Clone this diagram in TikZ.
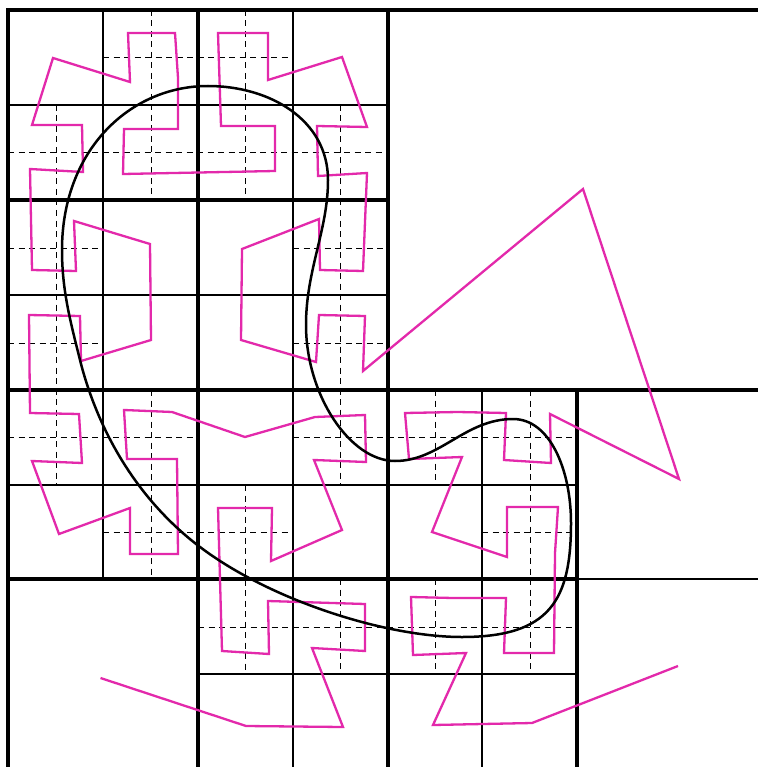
\documentclass[tikz,border=0pt]{standalone}
\definecolor{poly}{RGB}{227,41,171}
\tikzset{
  gridthick/.style={line width=3.2pt,black},
  gridthin/.style={line width=2pt,black},
  halfline/.style={line width=1pt,black,dash pattern=on 6pt off 4.5pt},
  polyline/.style={line width=2.3pt,poly,line join=miter,line cap=butt},
  blob/.style={line width=2.5pt,black}
}
\begin{document}
\begin{tikzpicture}[x=1pt,y=-1pt]
\useasboundingbox (0,0) rectangle (758,767);
\fill[white] (0,0) rectangle (758,767);
% dashed
\draw[halfline] (151,10)--(151,200) (245,10)--(245,200) (56,105)--(56,485) (340,105)--(340,485)
 (151,390)--(151,579) (245,485)--(245,674) (340,579)--(340,674) (435,390)--(435,485) (435,579)--(435,674) (530,390)--(530,674);
\draw[halfline] (103,58)--(293,58) (8,153)--(388,153) (8,248)--(103,248) (293,248)--(388,248)
 (8,343)--(103,343) (293,343)--(388,343) (8,437)--(198,437) (293,437)--(577,437)
 (103,532)--(293,532) (482,532)--(577,532) (198,627)--(577,627);
% thin
\draw[gridthin] (103,10)--(103,579) (293,10)--(293,767) (482,390)--(482,767);
\draw[gridthin] (8,105)--(388,105) (8,295)--(388,295) (8,485)--(577,485) (198,674)--(577,674) (577,579)--(758,579);
% thick
\draw[gridthick] (8,8.4)--(8,767) (198,10)--(198,767) (388,10)--(388,767) (577,390)--(577,767);
\draw[gridthick] (8,10)--(758,10) (8,200)--(388,200) (8,390)--(758,390) (8,579)--(577,579);
% polyline
\draw[polyline] (100.5,678)--(246,726)--(343,727)--(312,648)--(365,651)--(365,604)--(268,601)--(269,654)--(222,651)--(218,508)--(272,508)--(271,561)--(342,530)--(314,460)--(366,462)--(365,415)--(315,417)--(245,437)--(172,412)--(124,410)--(127,459)--(177,459)--(178,554)--(130,554)--(130,508)--(59,534)--(32,461)--(82,463)--(79,414)--(30,413)--(29,315)--(80,316)--(81,361)--(151,340)--(150,244)--(74,221)--(76,271)--(32,270)--(30,169)--(83,172)--(82,125)--(32,125)--(53,58)--(130,82)--(128,33)--(175,33)--(178,78)--(178,129)--(124,129)--(123,174)--(275,171)--(275,126)--(221,126)--(218,33)--(268,33)--(268,80)--(342,57)--(367,127)--(317,126)--(318,176)--(367,173)--(363,271)--(320,270)--(319,219)--(242,249)--(241,340)--(316,362)--(319,315)--(365,316)--(363,371)--(583,189)--(679,479)--(550,414)--(551,463)--(504,460)--(506,413)--(458,412)--(405,413)--(409,459)--(462,457)--(432,532)--(507,557)--(507,507)--(558,507)--(555,553)--(554,653)--(504,653)--(506,598)--(453,598)--(411,597)--(413,655)--(466,653)--(433,725)--(532,723)--(678,666);
% curve
\draw[blob] (208,86) .. controls (270,86) and (328,120) .. (328,180)
 .. controls (328,230) and (306,270) .. (306,325)
 .. controls (306,395) and (350,461) .. (395,461)
 .. controls (440,461) and (465,419) .. (513,419)
 .. controls (550,419) and (571,470) .. (571,523)
 .. controls (571,600) and (550,637) .. (462,637)
 .. controls (385,637) and (270,600) .. (200,547)
 .. controls (130,494) and (95,420) .. (80,360)
 .. controls (70,320) and (62,290) .. (62,250)
 .. controls (62,150) and (130,86) .. (208,86) -- cycle;
\end{tikzpicture}
\end{document}
